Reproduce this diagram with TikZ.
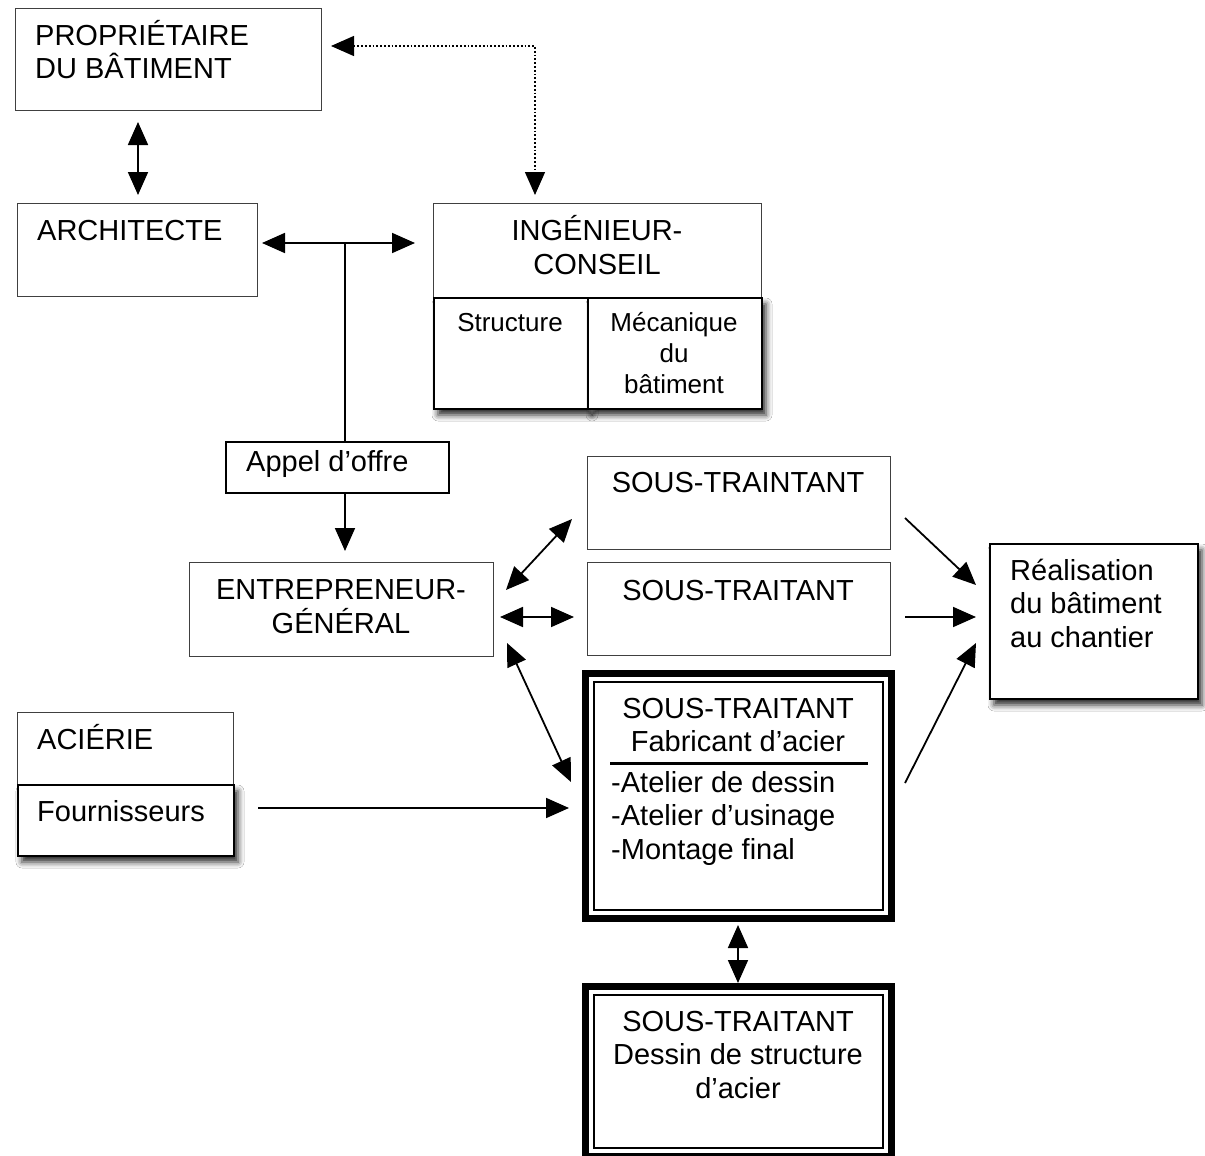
\documentclass[tikz,border=0pt]{standalone}
\usepackage{fontspec}
\setmainfont{Liberation Sans}
\usetikzlibrary{arrows.meta,shadows.blur}
\begin{document}
\begin{tikzpicture}[x=1pt,y=-1pt,
 thinbox/.style={draw=black!75, line width=1pt, fill=white, inner sep=0, anchor=north west},
 blkbox/.style={draw=black, line width=1.5pt, fill=white, inner sep=0, anchor=north west},
 shbox/.style={draw=black, line width=2pt, fill=white, inner sep=0, anchor=north west,
   blur shadow={shadow xshift=4pt, shadow yshift=-6pt, shadow blur radius=6pt, shadow opacity=85}},
 dblbox/.style={draw=black, line width=7pt, fill=white, inner sep=0, outer sep=0, anchor=north west},
 big/.style={font=\fontsize{29}{33.5}\selectfont, inner sep=0},
 small/.style={font=\fontsize{26}{31}\selectfont, inner sep=0},
 arr/.style={line width=1.8pt, -{Triangle[length=23pt,width=20pt]}},
 darr/.style={line width=1.8pt, {Triangle[length=23pt,width=20pt]}-{Triangle[length=23pt,width=20pt]}},
]
\useasboundingbox[fill=white] (0,0) rectangle (1205,1156);

% boxes
\node[thinbox, minimum width=306pt, minimum height=102pt] (prop) at (15,8) {};
\node[thinbox, minimum width=240pt, minimum height=93pt] (arch) at (17,203) {};
\node[thinbox, minimum width=328pt, minimum height=94pt] (ing) at (433,203) {};
\node[shbox, minimum width=154pt, minimum height=111pt] (struct) at (433,297) {};
\node[shbox, minimum width=174pt, minimum height=111pt] (meca) at (587,297) {};
\node[blkbox, minimum width=223pt, minimum height=51pt] (appel) at (225,441) {};
\node[thinbox, minimum width=304pt, minimum height=94pt] (entr) at (189,562) {};
\node[thinbox, minimum width=303pt, minimum height=93pt] (st1) at (587,456) {};
\node[thinbox, minimum width=303pt, minimum height=93pt] (st2) at (587,562) {};
\node[shbox, minimum width=208pt, minimum height=155pt] (real) at (989,543) {};
\node[thinbox, minimum width=216pt, minimum height=72pt] (acie) at (17,712) {};
\node[shbox, minimum width=216pt, minimum height=71pt] (four) at (17,784) {};
\node[dblbox, minimum width=306pt, minimum height=245pt] (fab) at (585.5,673.5) {};
\draw[line width=2pt] ([xshift=8.5pt,yshift=-8.5pt]fab.north west) rectangle ([xshift=-8.5pt,yshift=8.5pt]fab.south east);
\node[dblbox, minimum width=306pt, minimum height=170pt] (dess) at (585.5,986.5) {};
\draw[line width=2pt] ([xshift=8.5pt,yshift=-8.5pt]dess.north west) rectangle ([xshift=-8.5pt,yshift=8.5pt]dess.south east);

% texts (multi-line nodes: base = last line)
\node[big, anchor=base west, align=left] (tprop) at (35,78.5) {PROPRIÉTAIRE\\DU BÂTIMENT};
\node[big, anchor=base west] (tarch) at (37,240) {ARCHITECTE};
\node[big, anchor=base, align=center] (ting) at (597,274) {INGÉNIEUR-\\CONSEIL};
\node[small, anchor=base] (tstruct) at (510,331) {Structure};
\node[small, anchor=base, align=center] (tmeca) at (674,393) {Mécanique\\du\\bâtiment};
\node[big, anchor=base west] (tappel) at (246,471) {Appel d’offre};
\node[big, anchor=base, align=center] (tentr) at (341,633) {ENTREPRENEUR-\\GÉNÉRAL};
\node[big, anchor=base] (tst1) at (738,492) {SOUS-TRAINTANT};
\node[big, anchor=base] (tst2) at (738,600) {SOUS-TRAITANT};
\node[big, anchor=base west, align=left] (treal) at (1010,647) {Réalisation\\du bâtiment\\au chantier};
\node[big, anchor=base west] (tacie) at (37,749) {ACIÉRIE};
\node[big, anchor=base west] (tfour) at (37,821) {Fournisseurs};
\node[big, anchor=base, align=center] (tfab) at (738,751.5) {SOUS-TRAITANT\\Fabricant d’acier};
\draw[line width=3pt] (610,763) -- (868,763);
\node[big, anchor=base west, align=left] (tlist) at (611,859) {-Atelier de dessin\\-Atelier d’usinage\\-Montage final};
\node[big, anchor=base, align=center] (tdess) at (738,1098) {SOUS-TRAITANT\\Dessin de structure\\d’acier};

% connector end points
\coordinate (a1) at (138,122); \coordinate (a2) at (138,195);
\coordinate (d1) at (331,46); \coordinate (d2) at (535,195);
\coordinate (h1) at (262,243); \coordinate (h2) at (415,243); \coordinate (hj) at (345,243);
\coordinate (v2) at (345,551);
\coordinate (e1) at (506,590); \coordinate (s1) at (572,519);
\coordinate (e2) at (500,617); \coordinate (s2) at (574,617);
\coordinate (e3) at (507,643); \coordinate (s3) at (571,782);
\coordinate (f1) at (258,808); \coordinate (f2) at (569,808);
\coordinate (b1) at (738,925); \coordinate (b2) at (738,983);
\coordinate (r1) at (905,518); \coordinate (r1t) at (976,585);
\coordinate (r2) at (905,617); \coordinate (r2t) at (976,617);
\coordinate (r3) at (905,783); \coordinate (r3t) at (976,643);

% connectors
\draw[darr] (a1) -- (a2);
\draw[darr, dotted, line width=1.4pt] (d1) -| (d2);
\draw[darr] (h1) -- (h2);
\draw[line width=1.8pt] (hj) -- (hj |- appel.north);
\draw[arr] (appel.south -| hj) -- (v2);
\draw[darr] (e1) -- (s1);
\draw[darr] (e2) -- (s2);
\draw[darr] (e3) -- (s3);
\draw[arr] (f1) -- (f2);
\draw[darr] (b1) -- (b2);
\draw[arr] (r1) -- (r1t);
\draw[arr] (r2) -- (r2t);
\draw[arr] (r3) -- (r3t);
\end{tikzpicture}
\end{document}
